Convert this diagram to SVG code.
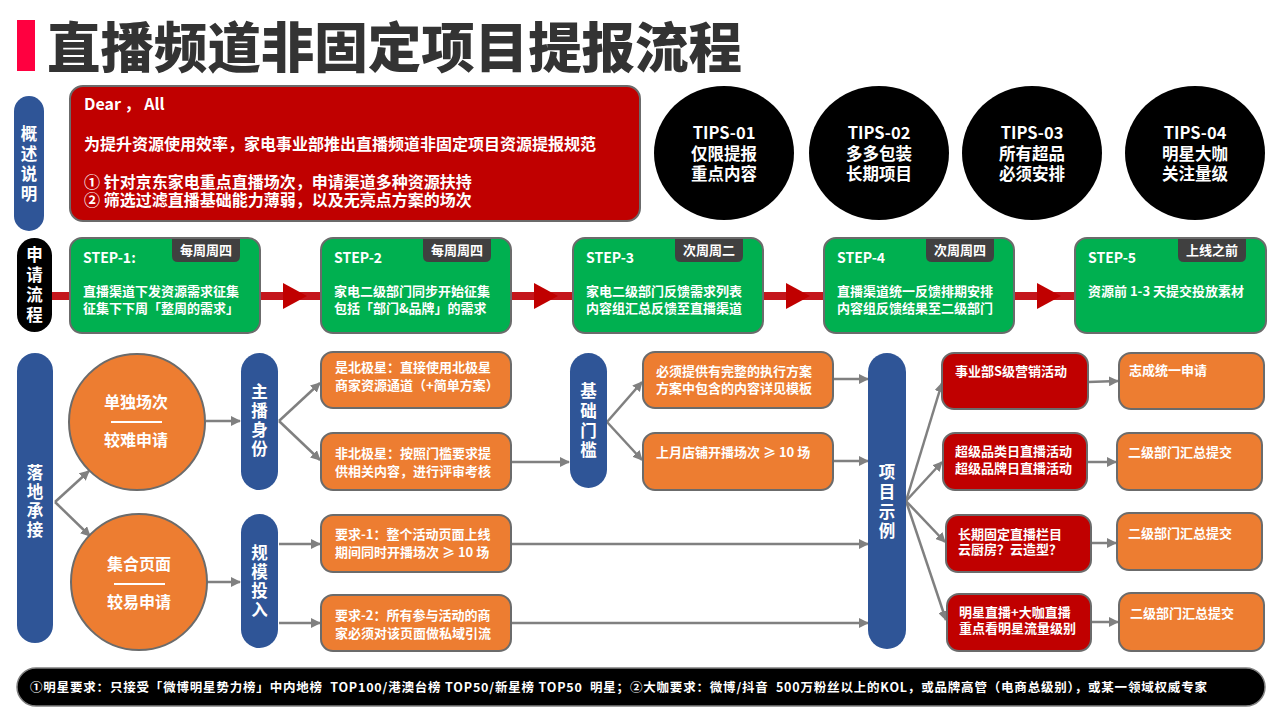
<svg xmlns="http://www.w3.org/2000/svg" width="1280" height="720" viewBox="0 0 1280 720">
<defs>
<style>
text{font-family:"Noto Sans CJK SC","Liberation Sans",sans-serif;font-weight:bold;fill:#fff}
.title{font-size:54px;fill:#333;font-weight:900}
.pill{fill:#2F5597}
.vt{font-size:16.5px;text-anchor:middle}
.red{fill:#C00000;stroke:#6b6b6b;stroke-width:2}
.org{fill:#ED7D31;stroke:#6b6b6b;stroke-width:2}
.grn{fill:#00B050;stroke:#6b6b6b;stroke-width:2}
.tag{fill:#404040}
.t13{font-size:13px}
.t14{font-size:14px}
.t16{font-size:16px}
.tips{font-size:16.5px;text-anchor:middle}
.tagt{font-size:13px;text-anchor:middle}
.gl{stroke:#808080;stroke-width:2.5;fill:none}
.rl{stroke:#C4161C;stroke-width:8;fill:none}
.ft{font-size:12.5px}
</style>
<marker id="ga" markerWidth="10" markerHeight="10" refX="9" refY="5" orient="auto" markerUnits="userSpaceOnUse"><path d="M0,0 L10,5 L0,10 Z" fill="#808080"/></marker>
</defs>
<rect width="1280" height="720" fill="#fff"/>

<!-- title -->
<g id="title">
<rect x="17" y="20" width="18" height="51" fill="#FF0040"/>
<text x="47" y="68" class="title" textLength="695" lengthAdjust="spacingAndGlyphs">直播频道非固定项目提报流程</text>
</g>

<!-- connectors -->
<g id="connectors">
<line class="rl" x1="50" y1="296" x2="1076" y2="296"/>
<path d="M283,283 L307,296 L283,309 Z" fill="#C00000"/>
<path d="M534,283 L558,296 L534,309 Z" fill="#C00000"/>
<path d="M786,283 L810,296 L786,309 Z" fill="#C00000"/>
<path d="M1037,283 L1061,296 L1037,309 Z" fill="#C00000"/>

<path class="gl" marker-end="url(#ga)" d="M55,502 L89,471"/>
<path class="gl" marker-end="url(#ga)" d="M55,502 L90,536"/>
<path class="gl" marker-end="url(#ga)" d="M206,421 L240,421"/>
<path class="gl" marker-end="url(#ga)" d="M207,582 L240,582"/>
<path class="gl" marker-end="url(#ga)" d="M279,421 L320,383"/>
<path class="gl" marker-end="url(#ga)" d="M279,421 L320,460"/>
<path class="gl" marker-end="url(#ga)" d="M279,544 L320,544"/>
<path class="gl" marker-end="url(#ga)" d="M279,623 L320,623"/>
<path class="gl" marker-end="url(#ga)" d="M511,462 L569,462"/>
<path class="gl" marker-end="url(#ga)" d="M607,422 L642,382"/>
<path class="gl" marker-end="url(#ga)" d="M607,422 L642,460"/>
<path class="gl" marker-end="url(#ga)" d="M833,379 L868,379"/>
<path class="gl" marker-end="url(#ga)" d="M833,461 L868,461"/>
<path class="gl" marker-end="url(#ga)" d="M511,544 L868,544"/>
<path class="gl" marker-end="url(#ga)" d="M511,623 L868,623"/>
<path class="gl" marker-end="url(#ga)" d="M906,501 L942,383"/>
<path class="gl" marker-end="url(#ga)" d="M906,501 L942,462"/>
<path class="gl" marker-end="url(#ga)" d="M906,501 L945,542"/>
<path class="gl" marker-end="url(#ga)" d="M906,501 L946,620"/>
<path class="gl" marker-end="url(#ga)" d="M1088,382 L1118,381"/>
<path class="gl" marker-end="url(#ga)" d="M1088,462 L1116,462"/>
<path class="gl" marker-end="url(#ga)" d="M1091,543 L1116,543"/>
<path class="gl" marker-end="url(#ga)" d="M1091,622 L1118,622"/>
</g>

<!-- overview -->
<g id="overview-label">
<rect class="pill" x="14" y="96" width="30" height="135" rx="15"/>
<text class="vt" x="29"><tspan x="29" y="140">概</tspan><tspan x="29" y="160">述</tspan><tspan x="29" y="180">说</tspan><tspan x="29" y="200">明</tspan></text>
</g>
<g id="overview-box">
<rect class="red" x="70" y="86" width="570" height="135" rx="13"/>
<text class="t16" x="84" y="110">Dear ， All</text>
<text class="t16" x="84" y="150">为提升资源使用效率，家电事业部推出直播频道非固定项目资源提报规范</text>
<text class="t16" x="84" y="188">① 针对京东家电重点直播场次，申请渠道多种资源扶持</text>
<text class="t16" x="84" y="206">② 筛选过滤直播基础能力薄弱，以及无亮点方案的场次</text>
</g>

<!-- tips -->
<g id="tips-01">
<ellipse cx="724" cy="153" rx="70" ry="67" fill="#000"/>
<text class="tips" x="724" y="139">TIPS-01</text>
<text class="tips" x="724" y="160">仅限提报</text>
<text class="tips" x="724" y="180">重点内容</text>
</g>
<g id="tips-02">
<ellipse cx="879" cy="153" rx="70" ry="67" fill="#000"/>
<text class="tips" x="879" y="139">TIPS-02</text>
<text class="tips" x="879" y="160">多多包装</text>
<text class="tips" x="879" y="180">长期项目</text>
</g>
<g id="tips-03">
<ellipse cx="1032" cy="153" rx="70" ry="67" fill="#000"/>
<text class="tips" x="1032" y="139">TIPS-03</text>
<text class="tips" x="1032" y="160">所有超品</text>
<text class="tips" x="1032" y="180">必须安排</text>
</g>
<g id="tips-04">
<ellipse cx="1195" cy="153" rx="70" ry="67" fill="#000"/>
<text class="tips" x="1195" y="139">TIPS-04</text>
<text class="tips" x="1195" y="160">明星大咖</text>
<text class="tips" x="1195" y="180">关注量级</text>
</g>

<!-- process -->
<g id="process-label">
<rect x="17" y="238" width="35" height="94" rx="17.5" fill="#000"/>
<text class="vt" x="34.5"><tspan x="34.5" y="261">申</tspan><tspan x="34.5" y="281">请</tspan><tspan x="34.5" y="301">流</tspan><tspan x="34.5" y="321">程</tspan></text>
</g>
<g id="step-1">
<rect class="grn" x="70" y="238" width="190" height="95" rx="12"/>
<path class="tag" d="M172,239 H240 V256 Q240,262 234,262 H178 Q172,262 172,256 Z"/>
<text class="tagt" x="206" y="255">每周周四</text>
<text class="t14" x="83" y="263">STEP-1:</text>
<text class="t13" x="83" y="296">直播渠道下发资源需求征集</text>
<text class="t13" x="83" y="313">征集下下周「整周的需求」</text>
</g>
<g id="step-2">
<rect class="grn" x="321" y="238" width="190" height="95" rx="12"/>
<path class="tag" d="M423,239 H491 V256 Q491,262 485,262 H429 Q423,262 423,256 Z"/>
<text class="tagt" x="457" y="255">每周周四</text>
<text class="t14" x="334" y="263">STEP-2</text>
<text class="t13" x="334" y="296">家电二级部门同步开始征集</text>
<text class="t13" x="334" y="313">包括「部门&amp;品牌」的需求</text>
</g>
<g id="step-3">
<rect class="grn" x="573" y="238" width="190" height="95" rx="12"/>
<path class="tag" d="M675,239 H743 V256 Q743,262 737,262 H681 Q675,262 675,256 Z"/>
<text class="tagt" x="709" y="255">次周周二</text>
<text class="t14" x="586" y="263">STEP-3</text>
<text class="t13" x="586" y="296">家电二级部门反馈需求列表</text>
<text class="t13" x="586" y="313">内容组汇总反馈至直播渠道</text>
</g>
<g id="step-4">
<rect class="grn" x="824" y="238" width="190" height="95" rx="12"/>
<path class="tag" d="M926,239 H994 V256 Q994,262 988,262 H932 Q926,262 926,256 Z"/>
<text class="tagt" x="960" y="255">次周周四</text>
<text class="t14" x="837" y="263">STEP-4</text>
<text class="t13" x="837" y="296">直播渠道统一反馈排期安排</text>
<text class="t13" x="837" y="313">内容组反馈结果至二级部门</text>
</g>
<g id="step-5">
<rect class="grn" x="1075" y="238" width="191" height="95" rx="12"/>
<path class="tag" d="M1178,239 H1246 V256 Q1246,262 1240,262 H1184 Q1178,262 1178,256 Z"/>
<text class="tagt" x="1212" y="255">上线之前</text>
<text class="t14" x="1088" y="263">STEP-5</text>
<text class="t13" x="1088" y="296">资源前 1-3 天提交投放素材</text>
</g>

<!-- landing -->
<g id="landing-label">
<rect class="pill" x="17" y="353" width="36" height="290" rx="18"/>
<text class="vt" x="35"><tspan x="35" y="479">落</tspan><tspan x="35" y="498">地</tspan><tspan x="35" y="517">承</tspan><tspan x="35" y="536">接</tspan></text>
</g>
<g id="single">
<circle cx="137" cy="422" r="68" class="org"/>
<text class="t16" x="136" y="408" text-anchor="middle">单独场次</text>
<line x1="111" y1="422" x2="162" y2="422" stroke="#fff" stroke-width="2"/>
<text class="t16" x="136" y="446" text-anchor="middle">较难申请</text>
</g>
<g id="collective">
<circle cx="139" cy="582" r="68" class="org"/>
<text class="t16" x="139" y="570" text-anchor="middle">集合页面</text>
<line x1="114" y1="584" x2="165" y2="584" stroke="#fff" stroke-width="2"/>
<text class="t16" x="139" y="608" text-anchor="middle">较易申请</text>
</g>
<g id="anchor-identity">
<rect class="pill" x="241" y="353" width="37" height="137" rx="18.5"/>
<text class="vt" x="259.5"><tspan x="259.5" y="398">主</tspan><tspan x="259.5" y="417">播</tspan><tspan x="259.5" y="436">身</tspan><tspan x="259.5" y="455">份</tspan></text>
</g>
<g id="scale-input">
<rect class="pill" x="241" y="514" width="37" height="134" rx="18.5"/>
<text class="vt" x="259.5"><tspan x="259.5" y="559">规</tspan><tspan x="259.5" y="578">模</tspan><tspan x="259.5" y="597">投</tspan><tspan x="259.5" y="616">入</tspan></text>
</g>
<g id="a1">
<rect class="org" x="321" y="352" width="190" height="56" rx="12"/>
<text class="t13" x="335" y="372">是北极星：直接使用北极星</text>
<text class="t13" x="335" y="390">商家资源通道（+简单方案）</text>
</g>
<g id="a2">
<rect class="org" x="321" y="433" width="190" height="57" rx="12"/>
<text class="t13" x="335" y="458">非北极星：按照门槛要求提</text>
<text class="t13" x="335" y="476">供相关内容，进行评审考核</text>
</g>
<g id="a3">
<rect class="org" x="321" y="515" width="190" height="57" rx="12"/>
<text class="t13" x="335" y="539">要求-1：整个活动页面上线</text>
<text class="t13" x="335" y="557">期间同时开播场次 ≥ 10 场</text>
</g>
<g id="a4">
<rect class="org" x="321" y="595" width="190" height="56" rx="12"/>
<text class="t13" x="335" y="620">要求-2：所有参与活动的商</text>
<text class="t13" x="335" y="638">家必须对该页面做私域引流</text>
</g>
<g id="threshold">
<rect class="pill" x="570" y="353" width="37" height="135" rx="18.5"/>
<text class="vt" x="588.5"><tspan x="588.5" y="397">基</tspan><tspan x="588.5" y="417">础</tspan><tspan x="588.5" y="437">门</tspan><tspan x="588.5" y="456">槛</tspan></text>
</g>
<g id="b1">
<rect class="org" x="643" y="352" width="190" height="56" rx="12"/>
<text class="t13" x="656" y="376">必须提供有完整的执行方案</text>
<text class="t13" x="656" y="393">方案中包含的内容详见模板</text>
</g>
<g id="b2">
<rect class="org" x="643" y="433" width="190" height="57" rx="12"/>
<text class="t13" x="656" y="457">上月店铺开播场次 ≥ 10 场</text>
</g>
<g id="examples">
<rect class="pill" x="868" y="353" width="38" height="296" rx="19"/>
<text class="vt" x="887"><tspan x="887" y="478">项</tspan><tspan x="887" y="498">目</tspan><tspan x="887" y="518">示</tspan><tspan x="887" y="537">例</tspan></text>
</g>
<g id="c1">
<rect class="red" x="942" y="353" width="146" height="56" rx="12"/>
<text class="t13" x="955" y="376">事业部S级营销活动</text>
</g>
<g id="c2">
<rect class="red" x="943" y="433" width="144" height="57" rx="12"/>
<text class="t13" x="955" y="456">超级品类日直播活动</text>
<text class="t13" x="955" y="473">超级品牌日直播活动</text>
</g>
<g id="c3">
<rect class="red" x="946" y="515" width="145" height="57" rx="12"/>
<text class="t13" x="958" y="539">长期固定直播栏目</text>
<text class="t13" x="958" y="554">云厨房？云造型？</text>
</g>
<g id="c4">
<rect class="red" x="947" y="594" width="144" height="57" rx="12"/>
<text class="t13" x="959" y="617">明星直播+大咖直播</text>
<text class="t13" x="959" y="633">重点看明星流量级别</text>
</g>
<g id="d1">
<rect class="org" x="1119" y="353" width="145" height="56" rx="12"/>
<text class="t13" x="1129" y="375">志成统一申请</text>
</g>
<g id="d2">
<rect class="org" x="1117" y="433" width="145" height="57" rx="12"/>
<text class="t13" x="1128" y="457">二级部门汇总提交</text>
</g>
<g id="d3">
<rect class="org" x="1117" y="513" width="145" height="57" rx="12"/>
<text class="t13" x="1128" y="538">二级部门汇总提交</text>
</g>
<g id="d4">
<rect class="org" x="1119" y="593" width="145" height="58" rx="12"/>
<text class="t13" x="1130" y="618">二级部门汇总提交</text>
</g>

<!-- footer -->
<g id="footer">
<rect x="17" y="668" width="1248" height="38" rx="19" fill="#000" stroke="#7f7f7f" stroke-width="1.5"/>
<text class="ft" x="30" y="692" xml:space="preserve" textLength="1177" lengthAdjust="spacing">①明星要求：只接受「微博明星势力榜」中内地榜  TOP100/港澳台榜 TOP50/新星榜 TOP50  明星；②大咖要求：微博/抖音  500万粉丝以上的KOL，或品牌高管（电商总级别），或某一领域权威专家</text>
</g>
</svg>
